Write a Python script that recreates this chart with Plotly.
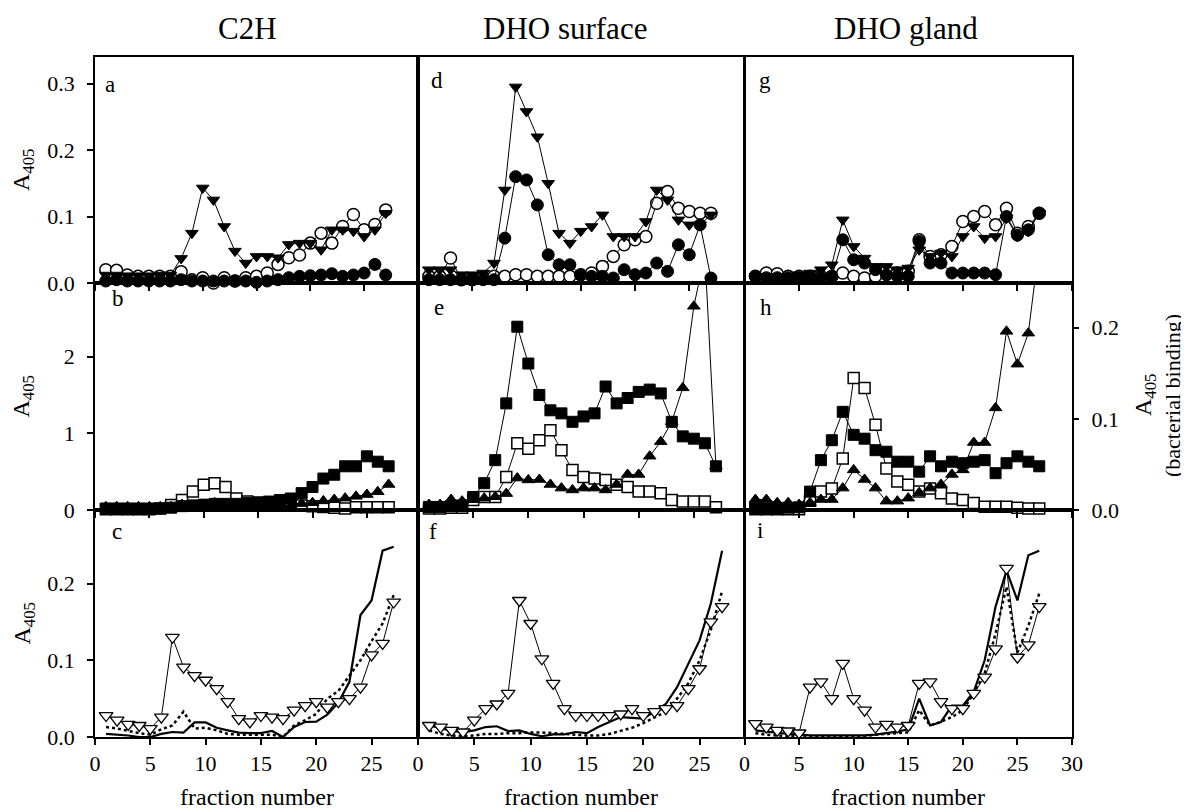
import plotly.graph_objects as go

# ---------------- data (fraction number 1..27) ----------------
fractions = list(range(1, 28))
column_titles = ["C2H", "DHO surface", "DHO gland"]
panel_letters = [["a", "b", "c"], ["d", "e", "f"], ["g", "h", "i"]]

# Row 1 (a, d, g): filled down-triangles, open circles, filled circles
a_tri = [0.012, 0.012, 0.011, 0.011, 0.011, 0.012, 0.012, 0.037, 0.075, 0.143, 0.125, 0.085, 0.048, 0.030,
         0.040, 0.040, 0.038, 0.058, 0.060, 0.060, 0.050, 0.080, 0.080, 0.078, 0.070, 0.080, 0.105]
a_open = [0.020, 0.019, 0.012, 0.010, 0.010, 0.010, 0.010, 0.017, 0.005, 0.008, 0.000, 0.008, 0.003, 0.008,
          0.010, 0.015, 0.028, 0.038, 0.042, 0.060, 0.075, 0.060, 0.085, 0.103, 0.080, 0.088, 0.110]
a_fill = [0.003, 0.005, 0.003, 0.003, 0.003, 0.003, 0.003, 0.005, 0.003, 0.003, 0.003, 0.003, 0.003, 0.003,
          0.001, 0.003, 0.005, 0.008, 0.010, 0.011, 0.012, 0.014, 0.010, 0.012, 0.015, 0.028, 0.012]

d_tri = [0.020, 0.020, 0.020, 0.0125, 0.0125, 0.015, 0.030, 0.140, 0.295, 0.258, 0.220, 0.150, 0.075, 0.060,
         0.078, 0.085, 0.1025, 0.070, 0.070, 0.070, 0.0925, 0.140, 0.125, 0.095, 0.0875, 0.0875, 0.1025]
d_open = [0.010, 0.010, 0.0375, 0.005, 0.005, 0.008, 0.010, 0.010, 0.0125, 0.0125, 0.010, 0.010, 0.010, 0.010,
          0.0125, 0.015, 0.025, 0.040, 0.0575, 0.065, 0.070, 0.120, 0.1375, 0.1125, 0.1075, 0.105, 0.105]
d_fill = [0.005, 0.005, 0.005, 0.005, 0.005, 0.005, 0.005, 0.0675, 0.160, 0.155, 0.1175, 0.0425, 0.0275, 0.0275,
          0.012, 0.010, 0.010, 0.0075, 0.020, 0.0125, 0.015, 0.030, 0.0175, 0.0575, 0.0425, 0.0875, 0.0075]

g_tri = [0.010, 0.010, 0.010, 0.010, 0.0125, 0.015, 0.020, 0.0275, 0.095, 0.055, 0.0375, 0.025, 0.025, 0.020,
         0.0225, 0.050, 0.040, 0.045, 0.040, 0.070, 0.085, 0.0675, 0.070, 0.0975, 0.070, 0.0775, 0.105]
g_open = [0.010, 0.015, 0.014, 0.010, 0.010, 0.010, 0.010, 0.010, 0.015, 0.010, 0.0075, 0.010, 0.0175, 0.015,
          0.0175, 0.065, 0.040, 0.0425, 0.055, 0.0925, 0.100, 0.1075, 0.0875, 0.1125, 0.075, 0.085, 0.105]
g_fill = [0.010, 0.008, 0.008, 0.008, 0.008, 0.008, 0.008, 0.010, 0.065, 0.035, 0.030, 0.020, 0.012, 0.010,
          0.010, 0.0625, 0.030, 0.030, 0.015, 0.015, 0.015, 0.015, 0.0125, 0.100, 0.072, 0.080, 0.105]

# Row 2 (b, e, h): filled squares & open squares (left axis), filled up-triangles (right axis, bacterial binding)
b_fsq = [0.02, 0.02, 0.02, 0.02, 0.02, 0.02, 0.03, 0.05, 0.06, 0.07, 0.08, 0.08, 0.08, 0.09,
         0.10, 0.11, 0.13, 0.15, 0.22, 0.30, 0.41, 0.46, 0.57, 0.57, 0.70, 0.63, 0.57]
b_osq = [0.01, 0.01, 0.01, 0.01, 0.01, 0.02, 0.065, 0.13, 0.24, 0.33, 0.35, 0.30, 0.15, 0.11,
         0.09, 0.09, 0.08, 0.07, 0.06, 0.05, 0.04, 0.03, 0.02, 0.035, 0.035, 0.035, 0.035]
b_tri = [0.0035, 0.0035, 0.0035, 0.0035, 0.0035, 0.0035, 0.0035, 0.006, 0.004, 0.006, 0.008, 0.006, 0.004, 0.004,
         0.004, 0.004, 0.004, 0.005, 0.007, 0.008, 0.010, 0.0115, 0.013, 0.015, 0.017, 0.020, 0.028]

e_fsq = [0.04, 0.04, 0.05, 0.06, 0.17, 0.35, 0.65, 1.39, 2.39, 1.91, 1.50, 1.30, 1.26, 1.15,
         1.22, 1.26, 1.61, 1.39, 1.46, 1.54, 1.57, 1.52, 1.15, 0.96, 0.93, 0.87, 0.57]
e_osq = [0.02, 0.02, 0.03, 0.03, 0.13, 0.17, 0.17, 0.43, 0.87, 0.80, 0.91, 1.04, 0.78, 0.52,
         0.43, 0.41, 0.39, 0.33, 0.30, 0.24, 0.24, 0.22, 0.13, 0.11, 0.11, 0.11, 0.035]
e_tri = [0.006, 0.006, 0.0115, 0.0097, 0.012, 0.013, 0.0145, 0.018, 0.035, 0.033, 0.0335, 0.028, 0.024, 0.022,
         0.024, 0.024, 0.022, 0.028, 0.039, 0.039, 0.059, 0.075, 0.097, 0.134, 0.2235, 0.28, 0.048]

h_fsq = [0.02, 0.02, 0.02, 0.03, 0.035, 0.24, 0.65, 0.91, 1.28, 0.98, 0.93, 0.78, 0.76, 0.63,
         0.63, 0.50, 0.70, 0.57, 0.63, 0.61, 0.63, 0.65, 0.48, 0.61, 0.70, 0.63, 0.57]
h_osq = [0.01, 0.01, 0.01, 0.01, 0.01, 0.12, 0.24, 0.28, 0.67, 1.72, 1.59, 1.11, 0.54, 0.37,
         0.33, 0.24, 0.28, 0.22, 0.15, 0.13, 0.09, 0.043, 0.043, 0.043, 0.03, 0.02, 0.02]
h_tri = [0.0115, 0.0115, 0.008, 0.008, 0.006, 0.008, 0.0115, 0.0115, 0.024, 0.044, 0.0335, 0.024, 0.0097, 0.0097,
         0.013, 0.019, 0.024, 0.028, 0.039, 0.044, 0.074, 0.074, 0.112, 0.196, 0.160, 0.194, 0.290]

# Row 3 (c, f, i): open down-triangles, solid line, dotted line
c_tri = [0.028, 0.022, 0.0165, 0.015, 0.011, 0.026, 0.130, 0.091, 0.080, 0.074, 0.063, 0.046, 0.024, 0.0196,
         0.028, 0.026, 0.024, 0.035, 0.041, 0.046, 0.039, 0.046, 0.050, 0.065, 0.107, 0.122, 0.176]
c_solid = [0.004, 0.003, 0.002, 0.000, 0.000, 0.004, 0.0065, 0.0057, 0.019, 0.019, 0.012, 0.0087, 0.0057, 0.005,
           0.005, 0.0078, 0.000, 0.013, 0.0196, 0.020, 0.029, 0.045, 0.072, 0.159, 0.178, 0.243, 0.248]
c_dot = [0.013, 0.011, 0.008, 0.005, 0.003, 0.010, 0.015, 0.033, 0.011, 0.012, 0.0087, 0.004, 0.003, 0.003,
         0.003, 0.003, 0.000, 0.015, 0.022, 0.030, 0.050, 0.060, 0.080, 0.100, 0.125, 0.148, 0.185]

f_tri = [0.015, 0.013, 0.0087, 0.0065, 0.022, 0.037, 0.043, 0.057, 0.178, 0.148, 0.102, 0.070, 0.037, 0.028,
         0.028, 0.028, 0.028, 0.030, 0.037, 0.028, 0.033, 0.037, 0.041, 0.063, 0.089, 0.150, 0.170]
f_solid = [0.015, 0.012, 0.008, 0.0065, 0.0087, 0.013, 0.014, 0.0078, 0.0087, 0.004, 0.001, 0.0035, 0.0035, 0.0065,
           0.005, 0.013, 0.0196, 0.026, 0.025, 0.024, 0.033, 0.043, 0.065, 0.096, 0.126, 0.174, 0.243]
f_dot = [0.0087, 0.004, 0.002, 0.001, 0.002, 0.004, 0.004, 0.005, 0.005, 0.006, 0.006, 0.005, 0.004, 0.003,
         0.002, 0.002, 0.004, 0.008, 0.012, 0.018, 0.025, 0.033, 0.050, 0.070, 0.100, 0.140, 0.190]

i_tri = [0.0174, 0.013, 0.0087, 0.0078, 0.0052, 0.065, 0.072, 0.050, 0.096, 0.050, 0.035, 0.013, 0.0165, 0.013,
         0.015, 0.070, 0.072, 0.046, 0.037, 0.037, 0.057, 0.078, 0.115, 0.220, 0.104, 0.120, 0.170]
i_solid = [0.0087, 0.007, 0.005, 0.004, 0.003, 0.002, 0.002, 0.002, 0.002, 0.002, 0.002, 0.003, 0.005, 0.007,
           0.010, 0.050, 0.015, 0.0196, 0.041, 0.041, 0.059, 0.100, 0.170, 0.217, 0.178, 0.237, 0.243]
i_dot = [0.005, 0.003, 0.002, 0.001, 0.001, 0.001, 0.001, 0.001, 0.001, 0.001, 0.001, 0.003, 0.004, 0.005,
         0.006, 0.035, 0.015, 0.020, 0.026, 0.035, 0.057, 0.083, 0.135, 0.196, 0.110, 0.145, 0.187]

row1_data = [(a_tri, a_open, a_fill), (d_tri, d_open, d_fill), (g_tri, g_open, g_fill)]
row2_data = [(b_fsq, b_osq, b_tri), (e_fsq, e_osq, e_tri), (h_fsq, h_osq, h_tri)]
row3_data = [(c_tri, c_solid, c_dot), (f_tri, f_solid, f_dot), (i_tri, i_solid, i_dot)]

# ---------------- layout geometry (page pixels) ----------------
PAGE_OFF = 8                    # default body margin of the html page
W, H = 1189 - PAGE_OFF, 811 - PAGE_OFF
SERIF = "Liberation Serif, Times New Roman, serif"
col_px = [(95, 418), (418, 743.5), (744.5, 1072)]
row_px = [(57, 283), (283, 510), (510, 737)]
x_ranges = [[30, 29.7, 29.2], [30, 29.5, 28.9], [30, 30, 30]]   # [col][row]
y_ranges = [0.34, 2.96, 0.296]
y2_range = 0.249


def px_x(x):
    return (x - PAGE_OFF) / W


def px_y(y):
    return 1 - (y - PAGE_OFF) / H


fig = go.Figure()
layout = dict(
    width=W, height=H,
    margin=dict(l=0, r=0, t=0, b=0, pad=0, autoexpand=False),
    paper_bgcolor="white", plot_bgcolor="white",
    showlegend=False,
    font=dict(family=SERIF, color="black", size=22),
)

BK = "black"
line_thin = dict(color=BK, width=1)


def ax_id(c, r):
    k = c * 3 + r + 1
    return ("" if k == 1 else str(k)), k


for c in range(3):
    for r in range(3):
        sfx, k = ax_id(c, r)
        xa = "x" + sfx
        ya = "y" + sfx
        layout["xaxis" + sfx] = dict(
            domain=[px_x(col_px[c][0]), px_x(col_px[c][1])],
            anchor=ya, range=[0, x_ranges[c][r]], automargin=False,
            showline=True, linecolor=BK, linewidth=1.5, mirror=True,
            ticks="outside", ticklen=6, tickwidth=1.5, tickcolor=BK,
            tickmode="linear", tick0=0, dtick=5,
            showticklabels=(r == 2), tickfont=dict(family=SERIF, size=22, color=BK),
            showgrid=False, zeroline=False,
        )
        if r == 0:
            tv, tt = [0, 0.1, 0.2, 0.3], ["0.0", "0.1", "0.2", "0.3"]
        elif r == 1:
            tv, tt = [0, 1, 2], ["0", "1", "2"]
        else:
            tv, tt = [0, 0.1, 0.2], ["0.0", "0.1", "0.2"]
        layout["yaxis" + sfx] = dict(
            domain=[px_y(row_px[r][1]), px_y(row_px[r][0])],
            anchor=xa, range=[0, y_ranges[r]], automargin=False,
            showline=True, linecolor=BK, linewidth=1.5, mirror=True,
            ticks="outside" if c == 0 else "", ticklen=6, tickwidth=1.5, tickcolor=BK,
            tickvals=tv, ticktext=tt, showticklabels=(c == 0),
            ticklabelstandoff=8,
            tickfont=dict(family=SERIF, size=22, color=BK),
            showgrid=False, zeroline=False,
        )
        if r == 1:
            k2 = 10 + c
            layout["yaxis%d" % k2] = dict(
                overlaying=ya, anchor=xa, side="right", range=[0, y2_range], automargin=False,
                showline=False, showgrid=False, zeroline=False,
                ticks="outside" if c == 2 else "", ticklen=6, tickwidth=1.5, tickcolor=BK,
                tickvals=[0, 0.1, 0.2], ticktext=["0.0", "0.1", "0.2"],
                showticklabels=(c == 2), ticklabelstandoff=8,
                tickfont=dict(family=SERIF, size=22, color=BK),
            )

# ---------------- traces ----------------
for c in range(3):
    sfx, k = ax_id(c, 0)
    tri, opn, fil = row1_data[c]
    fig.add_trace(go.Scatter(x=fractions, y=opn, xaxis="x" + sfx, yaxis="y" + sfx, mode="lines+markers",
                             line=line_thin, cliponaxis=False,
                             marker=dict(symbol="circle", size=12, color="white", line=dict(color=BK, width=1.5))))
    fig.add_trace(go.Scatter(x=fractions, y=fil, xaxis="x" + sfx, yaxis="y" + sfx, mode="lines+markers",
                             line=line_thin, cliponaxis=False,
                             marker=dict(symbol="circle", size=12, color=BK, line=dict(color=BK, width=1))))
    fig.add_trace(go.Scatter(x=fractions, y=tri, xaxis="x" + sfx, yaxis="y" + sfx, mode="lines+markers",
                             line=line_thin, cliponaxis=False,
                             marker=dict(symbol="triangle-down", size=11, color=BK, line=dict(color=BK, width=1))))

for c in range(3):
    sfx, k = ax_id(c, 1)
    fsq, osq, tri = row2_data[c]
    fig.add_trace(go.Scatter(x=fractions, y=osq, xaxis="x" + sfx, yaxis="y" + sfx, mode="lines+markers",
                             line=line_thin, cliponaxis=False,
                             marker=dict(symbol="square", size=11, color="white", line=dict(color=BK, width=1.5))))
    fig.add_trace(go.Scatter(x=fractions, y=fsq, xaxis="x" + sfx, yaxis="y" + sfx, mode="lines+markers",
                             line=line_thin, cliponaxis=False,
                             marker=dict(symbol="square", size=11, color=BK, line=dict(color=BK, width=1))))
    fig.add_trace(go.Scatter(x=fractions, y=tri, xaxis="x" + sfx, yaxis="y%d" % (10 + c), mode="lines+markers",
                             line=line_thin, cliponaxis=True,
                             marker=dict(symbol="triangle-up", size=11, color=BK, line=dict(color=BK, width=1))))

for c in range(3):
    sfx, k = ax_id(c, 2)
    tri, sol, dot = row3_data[c]
    fig.add_trace(go.Scatter(x=fractions, y=sol, xaxis="x" + sfx, yaxis="y" + sfx, mode="lines",
                             line=dict(color=BK, width=2.2)))
    fig.add_trace(go.Scatter(x=fractions, y=dot, xaxis="x" + sfx, yaxis="y" + sfx, mode="lines",
                             line=dict(color=BK, width=2.5, dash="dot")))
    fig.add_trace(go.Scatter(x=fractions, y=tri, xaxis="x" + sfx, yaxis="y" + sfx, mode="lines+markers",
                             line=line_thin, cliponaxis=False,
                             marker=dict(symbol="triangle-down", size=12, color="white",
                                         line=dict(color=BK, width=1.3))))

# ---------------- annotations ----------------
ann = []
title_x = [247, 565, 906]
for c in range(3):
    ann.append(dict(text=column_titles[c], x=px_x(title_x[c]), y=px_y(29), xref="paper", yref="paper",
                    xanchor="center", yanchor="middle", showarrow=False,
                    font=dict(family=SERIF, size=31, color=BK)))
    ann.append(dict(text="fraction number", x=px_x((col_px[c][0] + col_px[c][1]) / 2), y=px_y(797),
                    xref="paper", yref="paper", xanchor="center", yanchor="middle", showarrow=False,
                    font=dict(family=SERIF, size=24, color=BK)))

letter_pos = [[(103, 92), (110, 305), (110, 538)],
              [(429, 87), (432, 315), (427, 538)],
              [(757, 87), (758, 315), (755, 537)]]
for c in range(3):
    for r in range(3):
        lx, lb = letter_pos[c][r]
        ann.append(dict(text=panel_letters[c][r], x=px_x(lx), y=px_y(lb - 7), xref="paper", yref="paper",
                        xanchor="left", yanchor="middle", showarrow=False,
                        font=dict(family=SERIF, size=23, color=BK)))

for r in range(3):
    ann.append(dict(text="A<sub>405</sub>", x=px_x(23), y=px_y((row_px[r][0] + row_px[r][1]) / 2),
                    xref="paper", yref="paper", xanchor="center", yanchor="middle", showarrow=False,
                    textangle=-90, font=dict(family=SERIF, size=24, color=BK)))

# right-hand axis title (two lines, rotated)
ann.append(dict(text="A<sub>405</sub>", x=px_x(1145), y=px_y(395),
                xref="paper", yref="paper", xanchor="center", yanchor="middle", showarrow=False,
                textangle=-90, font=dict(family=SERIF, size=24, color=BK)))
ann.append(dict(text="(bacterial binding)", x=px_x(1173), y=px_y(396),
                xref="paper", yref="paper", xanchor="center", yanchor="middle", showarrow=False,
                textangle=-90, font=dict(family=SERIF, size=22, color=BK)))

layout["annotations"] = ann
fig.update_layout(**layout)
fig.write_html("out.html")
